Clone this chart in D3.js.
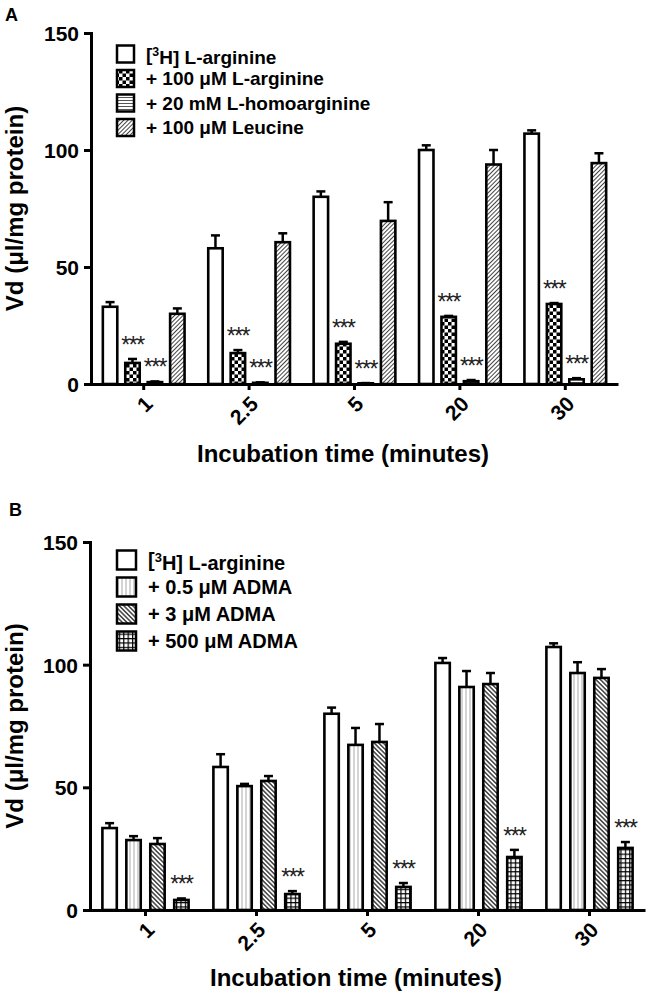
<!DOCTYPE html>
<html><head><meta charset="utf-8">
<script src="https://cdn.jsdelivr.net/npm/d3@7"></script>
<style>
body{margin:0;background:#fff}
text{font-family:Arial,"Liberation Sans",sans-serif;font-weight:bold;fill:#000}
</style>
</head><body>
<svg id="c" width="650" height="1000"></svg>
<script>
// ---------- data ----------
const categories = ["1", "2.5", "5", "20", "30"];
const yTicks = [0, 50, 100, 150];

// Panel A
const aNames = ["[3H] L-arginine", "+ 100 μM L-arginine", "+ 20 mM L-homoarginine", "+ 100 μM Leucine"];
const aControl = [33, 58, 80, 100, 107];
const aControlErr = [2, 5.5, 2.3, 2, 1.4];
const aArg = [9, 13.2, 17.2, 28.7, 34.2];
const aArgErr = [1.7, 1.3, 0.8, 0.4, 0.4];
const aHomo = [0.8, 0.5, 0.3, 1.2, 2.0];
const aHomoErr = [0.3, 0.2, 0.1, 0.5, 0.5];
const aLeu = [30, 60.6, 69.7, 93.8, 94.4];
const aLeuErr = [2.3, 3.8, 8, 6.2, 4.2];
const aStars = [false, true, true, false];

// Panel B
const bNames = ["[3H] L-arginine", "+ 0.5 μM ADMA", "+ 3 μM ADMA", "+ 500 μM ADMA"];
const bControl = [33.4, 58.3, 80, 100.7, 107.2];
const bControlErr = [2, 5.2, 2.5, 2, 1.5];
const bAdma05 = [28.5, 50.5, 67.3, 90.9, 96.6];
const bAdma05Err = [1.6, 0.9, 6.9, 6.5, 4.4];
const bAdma3 = [26.9, 52.6, 68.5, 92.1, 94.6];
const bAdma3Err = [2.4, 2, 7.3, 4.5, 3.6];
const bAdma500 = [4.1, 6.5, 9.4, 21.6, 25.3];
const bAdma500Err = [0.6, 1.2, 1.6, 2.9, 2.4];
const bStars = [false, false, false, true];

// ---------- patterns ----------
const svg = d3.select("#c");
const defs = svg.append("defs");
function pat(id, w, h, build, transform) {
  const p = defs.append("pattern").attr("id", id).attr("patternUnits", "userSpaceOnUse")
    .attr("width", w).attr("height", h);
  if (transform) p.attr("patternTransform", transform);
  p.append("rect").attr("width", w).attr("height", h).attr("fill", "#fff");
  build(p);
}
pat("checker", 7, 7, p => {
  p.append("rect").attr("width", 3.5).attr("height", 3.5).attr("fill", "#000");
  p.append("rect").attr("x", 3.5).attr("y", 3.5).attr("width", 3.5).attr("height", 3.5).attr("fill", "#000");
});
pat("hlines", 4, 3, p => {
  p.append("line").attr("x1", 0).attr("x2", 4).attr("y1", 1.5).attr("y2", 1.5).attr("stroke", "#555").attr("stroke-width", 1);
});
pat("diagA", 3, 3, p => {
  p.append("line").attr("x1", 1.5).attr("x2", 1.5).attr("y1", 0).attr("y2", 3).attr("stroke", "#444").attr("stroke-width", 1);
}, "rotate(45)");
pat("vlines", 4, 4, p => {
  p.append("line").attr("x1", 2).attr("x2", 2).attr("y1", 0).attr("y2", 4).attr("stroke", "#aaa").attr("stroke-width", 1);
});
pat("diagB", 3.2, 3.2, p => {
  p.append("line").attr("x1", 1.6).attr("x2", 1.6).attr("y1", 0).attr("y2", 3.2).attr("stroke", "#222").attr("stroke-width", 1.3);
}, "rotate(-45)");
pat("grid", 4.4, 4.4, p => {
  p.append("line").attr("x1", 0).attr("x2", 4.4).attr("y1", 0.6).attr("y2", 0.6).attr("stroke", "#000").attr("stroke-width", 1.2);
  p.append("line").attr("x1", 0.6).attr("x2", 0.6).attr("y1", 0).attr("y2", 4.4).attr("stroke", "#000").attr("stroke-width", 1.2);
});

// ---------- panel ----------
function panel(cfg) {
  const g = svg.append("g");
  const x = d3.scaleBand().domain(categories).range([cfg.x0, cfg.x1]).paddingInner(0.2).paddingOuter(0.1);
  const xi = d3.scaleBand().domain(d3.range(cfg.series.length)).range([0, x.bandwidth()]).paddingInner(cfg.innerPad);
  const y = d3.scaleLinear().domain([0, 150]).range([cfg.yBottom, cfg.yTop]);
  const sw = 2.6;

  cfg.series.forEach((s, si) => {
    categories.forEach((c, ci) => {
      const v = s.values[ci], e = s.errors[ci];
      const bx = x(c) + xi(si);
      const cx = bx + xi.bandwidth() / 2;
      g.append("rect")
        .attr("x", bx + sw / 2).attr("width", xi.bandwidth() - sw)
        .attr("y", y(v)).attr("height", Math.max(0, y(0) - y(v)))
        .attr("fill", s.fill).attr("stroke", "#000").attr("stroke-width", sw);
      g.append("line").attr("x1", cx).attr("x2", cx).attr("y1", y(v)).attr("y2", y(v + e))
        .attr("stroke", "#000").attr("stroke-width", 2.5);
      g.append("line").attr("x1", cx - 4.5).attr("x2", cx + 4.5).attr("y1", y(v + e)).attr("y2", y(v + e))
        .attr("stroke", "#000").attr("stroke-width", 2.5);
      if (cfg.stars[si]) {
        g.append("text").attr("x", cx).attr("y", y(v + e) - 6)
          .attr("text-anchor", "middle").style("font-weight", "normal").style("font-size", "23px")
          .style("letter-spacing", "-1.5px")
          .style("fill", "#222").text("***");
      }
    });
  });

  // y axis
  const ya = g.append("g").attr("transform", `translate(${cfg.x0},0)`)
    .call(d3.axisLeft(y).tickValues(yTicks).tickSize(7).tickSizeOuter(0).tickPadding(5));
  ya.select(".domain").attr("stroke-width", 3).attr("stroke-linecap", "square");
  ya.selectAll(".tick line").attr("stroke-width", 3);
  ya.selectAll(".tick text").style("font-size", "21px").style("font-family", "Arial, 'Liberation Sans', sans-serif").style("font-weight", "bold").attr("dy", "0.36em");

  // x axis
  const xa = g.append("g").attr("transform", `translate(0,${cfg.yBottom})`)
    .call(d3.axisBottom(x).tickSize(6).tickSizeOuter(0));
  xa.select(".domain").attr("stroke-width", 3);
  xa.selectAll(".tick line").attr("stroke-width", 3);
  xa.selectAll(".tick text")
    .attr("x", 0).attr("y", 0).attr("dy", "0.36em")
    .attr("text-anchor", "end")
    .attr("transform", "translate(5,16) rotate(-45)")
    .style("font-size", "21px").style("font-family", "Arial, 'Liberation Sans', sans-serif").style("font-weight", "bold");

  // titles
  g.append("text").attr("transform", `translate(23,${(cfg.yTop + cfg.yBottom) / 2}) rotate(-90)`)
    .attr("text-anchor", "middle").style("font-size", "24px").text("Vd (μl/mg protein)");
  g.append("text").attr("x", cfg.xTitleX).attr("y", cfg.xTitleY)
    .attr("text-anchor", "middle").style("font-size", "24px").text("Incubation time (minutes)");
  g.append("text").attr("x", cfg.labelX).attr("y", cfg.labelY).style("font-size", "18px").text(cfg.label);

  // legend
  cfg.series.forEach((s, si) => {
    const cy = cfg.legY + si * cfg.legStep;
    g.append("rect").attr("x", cfg.legX).attr("y", cy - cfg.legBox / 2)
      .attr("width", cfg.legBox).attr("height", cfg.legBox)
      .attr("fill", s.fill).attr("stroke", "#000").attr("stroke-width", 2.5);
    const t = g.append("text").attr("x", cfg.legX + cfg.legBox + 12).attr("y", cy).attr("dy", "0.36em")
      .style("font-size", cfg.legFont + "px");
    const name = s.name;
    if (name.startsWith("[3H]")) {
      t.append("tspan").text("[");
      t.append("tspan").attr("dy", "-0.4em").style("font-size", "0.65em").text("3");
      t.append("tspan").attr("dy", "0.4em").text("H]" + name.slice(4));
    } else {
      t.text(name);
    }
  });
}

panel({
  label: "A", labelX: 5, labelY: 21,
  x0: 91, x1: 618, yTop: 33, yBottom: 384, innerPad: 0.24,
  xTitleX: 343, xTitleY: 462,
  legX: 117, legY: 54, legStep: 24.5, legBox: 17, legFont: 19,
  stars: aStars,
  series: [
    {name: aNames[0], values: aControl, errors: aControlErr, fill: "#fff"},
    {name: aNames[1], values: aArg, errors: aArgErr, fill: "url(#checker)"},
    {name: aNames[2], values: aHomo, errors: aHomoErr, fill: "url(#hlines)"},
    {name: aNames[3], values: aLeu, errors: aLeuErr, fill: "url(#diagA)"}
  ]
});

panel({
  label: "B", labelX: 9, labelY: 516,
  x0: 90, x1: 645, yTop: 542, yBottom: 910, innerPad: 0.29,
  xTitleX: 356, xTitleY: 986,
  legX: 117, legY: 560, legStep: 27, legBox: 19, legFont: 20,
  stars: bStars,
  series: [
    {name: bNames[0], values: bControl, errors: bControlErr, fill: "#fff"},
    {name: bNames[1], values: bAdma05, errors: bAdma05Err, fill: "url(#vlines)"},
    {name: bNames[2], values: bAdma3, errors: bAdma3Err, fill: "url(#diagB)"},
    {name: bNames[3], values: bAdma500, errors: bAdma500Err, fill: "url(#grid)"}
  ]
});
</script>
</body></html>
